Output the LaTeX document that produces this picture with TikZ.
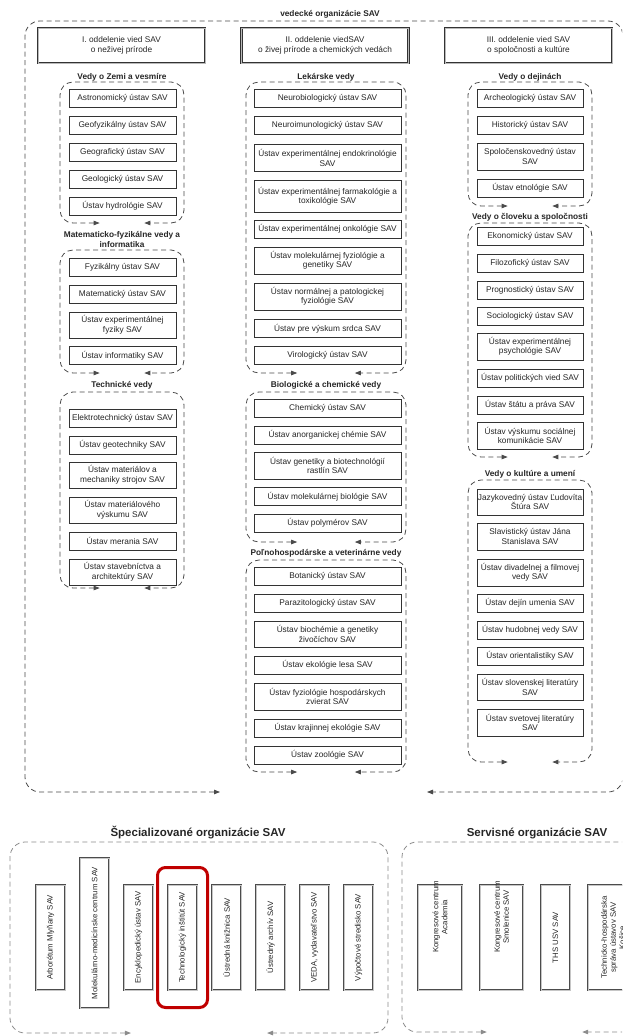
\documentclass[tikz,border=0pt]{standalone}
\usepackage{fontspec}
\setmainfont{Liberation Sans}
\usetikzlibrary{arrows.meta}
\definecolor{linegray}{HTML}{4A4A4A}
\definecolor{boxgray}{HTML}{8C8C8C}
\definecolor{hlred}{HTML}{C00000}
\definecolor{txt}{HTML}{262626}
\newcommand{\mkgroup}[6]{%
  \coordinate (#1-a) at ({#2+0.32*(#3-#2)},#5);
  \coordinate (#1-b) at ({#2+0.68*(#3-#2)},#5);
  \coordinate (#1-bl) at (#2,#5);
  \coordinate (#1-tl) at (#2,#4);
  \coordinate (#1-tr) at (#3,#4);
  \coordinate (#1-br) at (#3,#5);
  \draw[#6] (#1-a) -- (#1-bl) -- (#1-tl) -- (#1-tr) -- (#1-br) -- (#1-b);}
\begin{document}
\begin{tikzpicture}[x=1pt,y=-1pt,
  every node/.style={text=txt},
  inst/.style={draw=black!80, line width=0.6pt, fill=white, align=center, inner sep=1pt,
    font=\fontsize{8.3}{9.5}\selectfont},
  c1/.style={inst, minimum width=107pt},
  c2/.style={inst, minimum width=147pt},
  c3/.style={inst, minimum width=106pt},
  hdr/.style={draw=black!80, double=gray!55, double distance=0.8pt, line width=0.7pt,
    minimum width=167pt, minimum height=35pt, align=center, inner sep=1pt,
    font=\fontsize{8.3}{9.5}\selectfont},
  gtitle/.style={font=\bfseries\fontsize{8.3}{9.5}\selectfont, align=center, inner sep=0pt},
  btitle/.style={font=\bfseries\fontsize{11.5}{13}\selectfont, inner sep=0pt},
  grpline/.style={draw=linegray, line width=0.8pt, dash pattern=on 5pt off 3.5pt,
    rounded corners=13pt, {Triangle[length=6pt,width=4.5pt]}-{Triangle[length=6pt,width=4.5pt]}},
  botgrp/.style={grpline, draw=boxgray, rounded corners=15pt},
  vbox/.style={draw=gray!60!black, double=gray!45, double distance=0.8pt, line width=0.6pt,
    fill=white, rotate=90, align=center,
    minimum height=29pt, minimum width=105pt, inner sep=1pt, font=\fontsize{7.8}{9}\selectfont},
  vtext/.style={rotate=90, align=center, inner sep=0pt, font=\fontsize{7.8}{9}\selectfont},
  hlbox/.style={draw=hlred, line width=3pt, rounded corners=8pt},
]
\useasboundingbox (0,0) rectangle (622,1036);
\clip (0,0) rectangle (622,1036);

% outer group
\coordinate (o-a) at (220,792);
\coordinate (o-b) at (427,792);
\coordinate (o-bl) at (25,792);
\coordinate (o-tl) at (25,21);
\coordinate (o-tr) at (623,21);
\coordinate (o-br) at (623,792);
\draw[grpline, rounded corners=15pt] (o-a) -- (o-bl) -- (o-tl) -- (o-tr) -- (o-br) -- (o-b);

% groups
\mkgroup{g11}{60}{184}{82}{223}{grpline}
\mkgroup{g12}{60}{184}{250}{373}{grpline}
\mkgroup{g13}{60}{184}{392}{588}{grpline}
\mkgroup{g21}{246}{406}{82}{373}{grpline}
\mkgroup{g22}{246}{406}{392}{542}{grpline}
\mkgroup{g23}{246}{406}{560}{772}{grpline}
\mkgroup{g31}{468}{592}{82}{206}{grpline}
\mkgroup{g32}{468}{592}{223}{457}{grpline}
\mkgroup{g33}{468}{592}{480}{762}{grpline}
\mkgroup{gs}{10}{388}{842}{1033}{botgrp}
\mkgroup{gv}{402}{667}{842}{1032}{botgrp}

% titles
\node[gtitle] (t0) at (330,14) {vedecké organizácie SAV};
\node[gtitle] (t11) at (122,77) {Vedy o Zemi a vesmíre};
\node[gtitle] (t12) at (122,239.5) {Matematicko-fyzikálne vedy a\\informatika};
\node[gtitle] (t13) at (122,385) {Technické vedy};
\node[gtitle] (t21) at (326,77) {Lekárske vedy};
\node[gtitle] (t22) at (326,385) {Biologické a chemické vedy};
\node[gtitle] (t23) at (326,553) {Poľnohospodárske a veterinárne vedy};
\node[gtitle] (t31) at (530,77) {Vedy o dejinách};
\node[gtitle] (t32) at (530,217) {Vedy o človeku a spoločnosti};
\node[gtitle] (t33) at (530,474) {Vedy o kultúre a umení};
\node[btitle] (ts) at (198,833) {Špecializované organizácie SAV};
\node[btitle] (tv) at (537,833) {Servisné organizácie SAV};

% headers
\node[hdr] (h1) at (121.5,45.5) {I. oddelenie vied SAV\\o neživej prírode};
\node[hdr] (h2) at (325,45.5) {II. oddelenie viedSAV\\o živej prírode a chemických vedách};
\node[hdr] (h3) at (528.5,45.5) {III. oddelenie vied SAV\\o spoločnosti a kultúre};

% column 1
\node[c1, minimum height=18pt] (c1a) at (122.5,98) {Astronomický ústav SAV};
\node[c1, minimum height=18pt] (c1b) at (122.5,125) {Geofyzikálny ústav SAV};
\node[c1, minimum height=18pt] (c1c) at (122.5,152) {Geografický ústav SAV};
\node[c1, minimum height=18pt] (c1d) at (122.5,179) {Geologický ústav SAV};
\node[c1, minimum height=18pt] (c1e) at (122.5,206) {Ústav hydrológie SAV};
\node[c1, minimum height=18pt] (c1f) at (122.5,267) {Fyzikálny ústav SAV};
\node[c1, minimum height=18pt] (c1g) at (122.5,294) {Matematický ústav SAV};
\node[c1, minimum height=26pt] (c1h) at (122.5,325) {Ústav experimentálnej\\fyziky SAV};
\node[c1, minimum height=18pt] (c1i) at (122.5,355.5) {Ústav informatiky SAV};
\node[c1, minimum height=18pt] (c1j) at (122.5,418) {Elektrotechnický ústav SAV};
\node[c1, minimum height=18pt] (c1k) at (122.5,445) {Ústav geotechniky SAV};
\node[c1, minimum height=26pt] (c1l) at (122.5,475) {Ústav materiálov a\\mechaniky strojov SAV};
\node[c1, minimum height=26pt] (c1m) at (122.5,510) {Ústav materiálového\\výskumu SAV};
\node[c1, minimum height=18pt] (c1n) at (122.5,541) {Ústav merania SAV};
\node[c1, minimum height=26pt] (c1o) at (122.5,572) {Ústav stavebníctva a\\architektúry SAV};

% column 2
\node[c2, minimum height=18pt] (c2a) at (327.5,98) {Neurobiologický ústav SAV};
\node[c2, minimum height=18pt] (c2b) at (327.5,125) {Neuroimunologický ústav SAV};
\node[c2, minimum height=27pt] (c2c) at (327.5,158) {Ústav experimentálnej endokrinológie\\SAV};
\node[c2, minimum height=32pt] (c2d) at (327.5,196.5) {Ústav experimentálnej farmakológie a\\toxikológie SAV};
\node[c2, minimum height=18pt] (c2e) at (327.5,229) {Ústav experimentálnej onkológie SAV};
\node[c2, minimum height=27pt] (c2f) at (327.5,260.5) {Ústav molekulárnej fyziológie a\\genetiky SAV};
\node[c2, minimum height=27pt] (c2g) at (327.5,296.5) {Ústav normálnej a patologickej\\fyziológie SAV};
\node[c2, minimum height=18pt] (c2h) at (327.5,328.5) {Ústav pre výskum srdca SAV};
\node[c2, minimum height=18pt] (c2i) at (327.5,355.5) {Virologický ústav SAV};
\node[c2, minimum height=18pt] (c2j) at (327.5,408) {Chemický ústav SAV};
\node[c2, minimum height=18pt] (c2k) at (327.5,435) {Ústav anorganickej chémie SAV};
\node[c2, minimum height=27pt] (c2l) at (327.5,465.5) {Ústav genetiky a biotechnológií\\rastlín SAV};
\node[c2, minimum height=18pt] (c2m) at (327.5,496.5) {Ústav molekulárnej biológie SAV};
\node[c2, minimum height=18pt] (c2n) at (327.5,523) {Ústav polymérov SAV};
\node[c2, minimum height=18pt] (c2o) at (327.5,576) {Botanický ústav SAV};
\node[c2, minimum height=18pt] (c2p) at (327.5,603) {Parazitologický ústav SAV};
\node[c2, minimum height=26pt] (c2q) at (327.5,634) {Ústav biochémie a genetiky\\živočíchov SAV};
\node[c2, minimum height=18pt] (c2r) at (327.5,665) {Ústav ekológie lesa SAV};
\node[c2, minimum height=27pt] (c2s) at (327.5,696.5) {Ústav fyziológie hospodárskych\\zvierat SAV};
\node[c2, minimum height=18pt] (c2t) at (327.5,728) {Ústav krajinnej ekológie SAV};
\node[c2, minimum height=18pt] (c2u) at (327.5,755) {Ústav zoológie SAV};

% column 3
\node[c3, minimum height=18pt] (c3a) at (530,98) {Archeologický ústav SAV};
\node[c3, minimum height=18pt] (c3b) at (530,125) {Historický ústav SAV};
\node[c3, minimum height=27pt] (c3c) at (530,156.5) {Spoločenskovedný ústav\\SAV};
\node[c3, minimum height=18pt] (c3d) at (530,188) {Ústav etnológie SAV};
\node[c3, minimum height=18pt] (c3e) at (530,236) {Ekonomický ústav SAV};
\node[c3, minimum height=18pt] (c3f) at (530,263) {Filozofický ústav SAV};
\node[c3, minimum height=18pt] (c3g) at (530,290) {Prognostický ústav SAV};
\node[c3, minimum height=18pt] (c3h) at (530,316) {Sociologický ústav SAV};
\node[c3, minimum height=27pt] (c3i) at (530,346.5) {Ústav experimentálnej\\psychológie SAV};
\node[c3, minimum height=18pt] (c3j) at (530,378) {Ústav politických vied SAV};
\node[c3, minimum height=18pt] (c3k) at (530,405) {Ústav štátu a práva SAV};
\node[c3, minimum height=27pt] (c3l) at (530,435.5) {Ústav výskumu sociálnej\\komunikácie SAV};
\node[c3, minimum height=26pt] (c3m) at (530,502) {Jazykovedný ústav Ľudovíta\\Štúra SAV};
\node[c3, minimum height=27pt] (c3n) at (530,536.5) {Slavistický ústav Jána\\Stanislava SAV};
\node[c3, minimum height=27pt] (c3o) at (530,572.5) {Ústav divadelnej a filmovej\\vedy SAV};
\node[c3, minimum height=18pt] (c3p) at (530,603) {Ústav dejín umenia SAV};
\node[c3, minimum height=18pt] (c3q) at (530,630) {Ústav hudobnej vedy SAV};
\node[c3, minimum height=18pt] (c3r) at (530,656) {Ústav orientalistiky SAV};
\node[c3, minimum height=26pt] (c3s) at (530,687) {Ústav slovenskej literatúry\\SAV};
\node[c3, minimum height=27pt] (c3t) at (530,722.5) {Ústav svetovej literatúry\\SAV};

% specialised organisations
\node[vbox] (sa) at (50.5,937.5) {Arborétum Mlyňany SAV};
\node[vbox, minimum width=150pt] (sb) at (94.5,933) {Molekulárno-medicínske centrum SAV};
\node[vbox] (sc) at (138.5,937.5) {Encyklopedický ústav SAV};
\node[vbox] (sd) at (182.5,937.5) {Technologický inštitút SAV};
\node[vbox] (se) at (226.5,937.5) {Ústredná knižnica SAV};
\node[vbox] (sf) at (270.5,937.5) {Ústredný archív SAV};
\node[vbox] (sg) at (314.5,937.5) {VEDA, vydavateľstvo SAV};
\node[vbox] (sh) at (358.5,937.5) {Výpočtové stredisko SAV};
\node[hlbox, minimum width=50pt, minimum height=140pt] (hl) at (sd) {};

% service organisations
\node[vbox, minimum height=44pt] (va) at (440,937.5) {};
\node[vtext] (va-t) at (440,917) {Kongresové centrum\\Academia};
\node[vbox, minimum height=43pt] (vb) at (501.5,937.5) {};
\node[vtext] (vb-t) at (501.5,917) {Kongresové centrum\\Smolenice SAV};
\node[vbox] (vc) at (555.5,937.5) {THS USV SAV};
\node[vbox, minimum height=50pt] (vd) at (613,937.5) {Technicko-hospodárska\\správa ústavov SAV\\Košice};
\end{tikzpicture}
\end{document}
